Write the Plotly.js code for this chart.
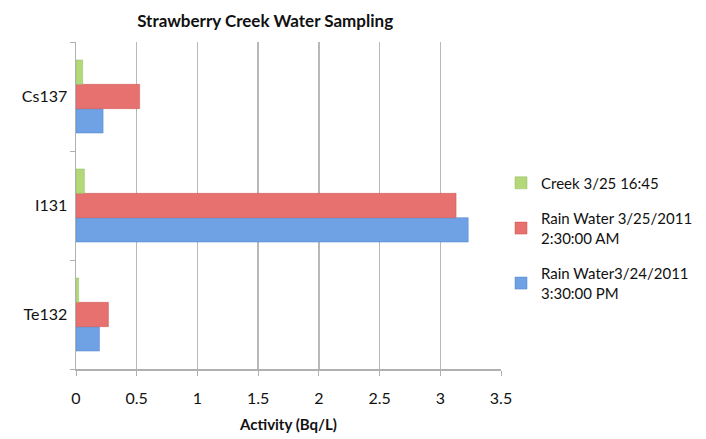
<!DOCTYPE html>
<html>
<head>
<meta charset="utf-8">
<script src="https://cdn.plot.ly/plotly-3.0.1.min.js"></script>
<style>html,body{margin:0;padding:0;background:#fff;}#chart{width:706px;height:439px;}</style>
</head>
<body>
<div id="chart"></div>
<script>
// Data
const categories = ["Te132", "I131", "Cs137"];
const seriesNames = ["Rain Water3/24/2011<br>3:30:00 PM", "Rain Water 3/25/2011<br>2:30:00 AM", "Creek 3/25 16:45"];
const rainWater0324 = [0.193, 3.23, 0.223];
const rainWater0325 = [0.267, 3.13, 0.524];
const creek0325 = [0.022, 0.069, 0.055];
const xTickVals = [0, 0.5, 1, 1.5, 2, 2.5, 3, 3.5];
const xTickText = ["0", "0.5", "1", "1.5", "2", "2.5", "3", "3.5"];

const fontFam = "Lato, 'Open Sans', sans-serif";
const colors = ["#6fa2e4", "#e6716f", "#b2d87a"];
const lineColors = ["#4f83c9", "#cc5553", "#93bf5a"];
const values = [rainWater0324, rainWater0325, creek0325];

const traces = values.map((v, i) => ({
  type: "bar",
  orientation: "h",
  x: v,
  y: categories,
  name: seriesNames[i],
  legendgroup: "g" + i,
  legendrank: 3 - i,
  marker: {color: colors[i], line: {color: lineColors[i], width: 0.5}},
  hoverinfo: "x+name"
}));

const layout = {
  width: 706,
  height: 439,
  margin: {l: 76, r: 205, t: 42, b: 70, autoexpand: false},
  paper_bgcolor: "#ffffff",
  plot_bgcolor: "#ffffff",
  barmode: "group",
  bargap: 0.33,
  bargroupgap: 0,
  font: {family: fontFam, size: 16, color: "#111"},
  title: {
    text: "<b>Strawberry Creek Water Sampling</b>",
    font: {family: fontFam, size: 17, color: "#111"},
    x: 0.445, xanchor: "center", xref: "paper",
    y: 0.952, yanchor: "middle", yref: "container"
  },
  xaxis: {
    range: [0, 3.5],
    tickvals: xTickVals,
    ticktext: xTickText,
    showgrid: true,
    gridcolor: "#b8b8b8",
    gridwidth: 1.5,
    showline: true,
    linecolor: "#b0b0b0",
    linewidth: 1.5,
    ticks: "outside",
    ticklen: 5,
    tickcolor: "#b0b0b0",
    ticklabelstandoff: 9,
    tickfont: {family: fontFam, size: 16, color: "#111"},
    zeroline: false,
    title: {text: "<b>Activity (Bq/L)</b>", font: {family: fontFam, size: 15, color: "#111"}, standoff: 14}
  },
  yaxis: {
    type: "category",
    categoryorder: "array",
    categoryarray: categories,
    showgrid: false,
    showline: true,
    linecolor: "#b0b0b0",
    linewidth: 1.5,
    ticks: "outside",
    tickson: "boundaries",
    ticklen: 5,
    tickcolor: "#b0b0b0",
    ticklabelstandoff: 4,
    tickfont: {family: fontFam, size: 16, color: "#111"},
    zeroline: false
  },
  showlegend: true,
  legend: {
    x: 1.0, xanchor: "left",
    y: 0.619, yanchor: "top",
    traceorder: "grouped",
    tracegroupgap: 13,
    font: {family: fontFam, size: 15, color: "#111"},
    bgcolor: "rgba(0,0,0,0)",
    itemclick: false
  },
  hovermode: false
};

Plotly.newPlot("chart", traces, layout, {displayModeBar: false, staticPlot: true});
</script>
</body>
</html>
